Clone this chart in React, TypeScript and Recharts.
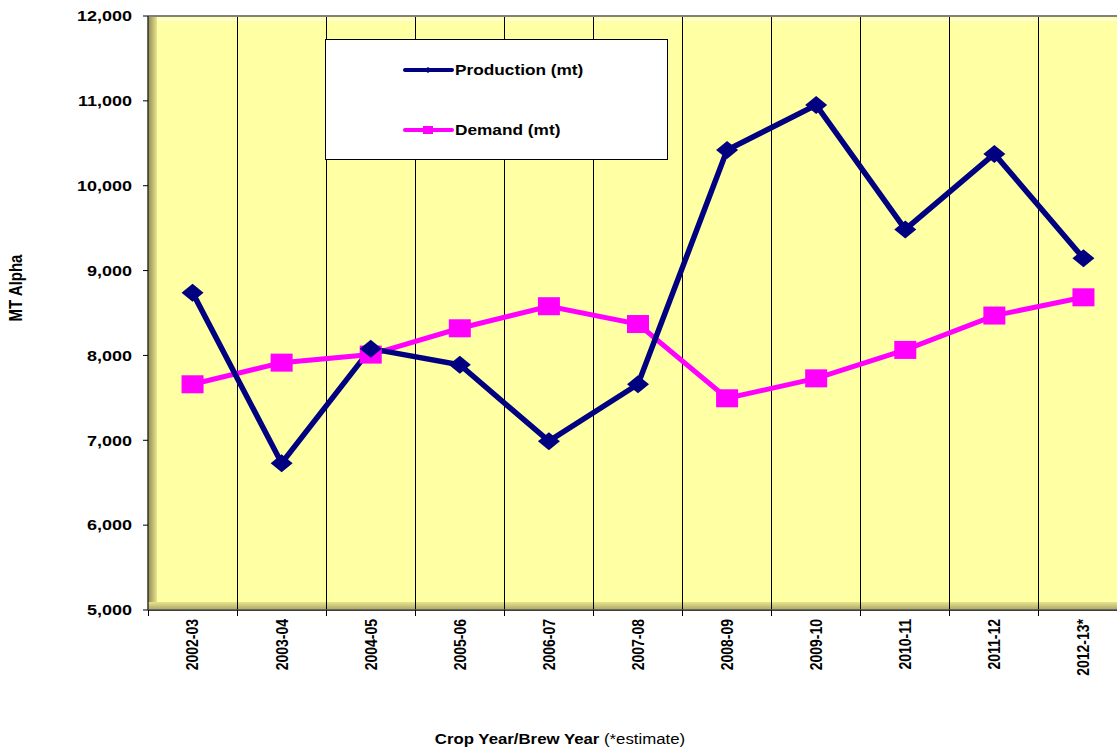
import { LineChart, Line, XAxis, YAxis, CartesianGrid, Legend, Customized } from 'recharts'

const SEASONS = ['2002-03', '2003-04', '2004-05', '2005-06', '2006-07', '2007-08', '2008-09', '2009-10', '2010-11', '2011-12', '2012-13*']
const PRODUCTION = [8740, 6730, 8080, 7890, 6990, 7660, 10420, 10950, 9485, 10375, 9145]
const DEMAND = [7660, 7915, 8010, 8320, 8580, 8370, 7495, 7730, 8065, 8470, 8685]
const Y_TICKS = [5000, 6000, 7000, 8000, 9000, 10000, 11000, 12000]

const data = SEASONS.map((season, i) => ({ season, production: PRODUCTION[i], demand: DEMAND[i] }))

const FONT = '"Liberation Sans", Arial, sans-serif'
const STRETCH = 1.2 // the source image is a bit wider than tall

// chart geometry
const W = 1140
const H = 751
const M = { top: 16, right: 12, bottom: 0, left: 0 }
const Y_W = 148
const X_H = 141
const PLOT = { left: Y_W, top: M.top, width: W - M.right - Y_W, height: H - M.top - X_H }
const STEP = PLOT.width / SEASONS.length

const NAVY = '#000080'
const MAGENTA = '#ff00ff'

const fmt = (v: number) => v.toLocaleString('en-US')

function YTick({ x, y, payload }: any) {
  return (
    <g transform={`translate(${x},${y}) scale(${STRETCH},1)`}>
      <text x={0} y={0} dy="0.35em" textAnchor="end" fontFamily={FONT} fontWeight="bold" fontSize={15} fill="#000">
        {fmt(payload.value)}
      </text>
    </g>
  )
}

function XTick({ x, y, payload }: any) {
  const axisY = PLOT.top + PLOT.height
  return (
    <g>
      <line x1={x - STEP / 2} x2={x - STEP / 2} y1={axisY} y2={axisY + 6} stroke="#000" shapeRendering="crispEdges" />
      <g transform={`translate(${x},${y}) scale(${STRETCH},1) rotate(-90)`}>
        <text x={0} y={0} dy="0.35em" textAnchor="end" fontFamily={FONT} fontWeight="bold" fontSize={14} fill="#000">
          {payload.value}
        </text>
      </g>
    </g>
  )
}

function Diamond({ cx, cy }: any) {
  if (cx == null || cy == null) return null
  return <polygon points={`${cx},${cy - 9} ${cx + 11},${cy} ${cx},${cy + 9} ${cx - 11},${cy}`} fill={NAVY} />
}

function Square({ cx, cy }: any) {
  if (cx == null || cy == null) return null
  return <rect x={cx - 11} y={cy - 9} width={22} height={18} fill={MAGENTA} />
}

// yellow plot wall with the Excel-style bevel on the left and bottom
function Wall() {
  const { left, top, width, height } = PLOT
  return (
    <g>
      <defs>
        <linearGradient id="leftBevel" x1="0" x2="1" y1="0" y2="0">
          <stop offset="0" stopColor="#8e8a52" />
          <stop offset="1" stopColor="#e8e48c" />
        </linearGradient>
        <linearGradient id="bottomBevel" x1="0" x2="0" y1="0" y2="1">
          <stop offset="0" stopColor="#e8e48c" />
          <stop offset="1" stopColor="#a8a468" />
        </linearGradient>
      </defs>
      <rect x={left} y={top} width={width} height={height} fill="#ffffa3" />
      <rect x={left} y={top} width={9} height={height} fill="url(#leftBevel)" />
      <rect x={left} y={top + height - 8} width={width} height={8} fill="url(#bottomBevel)" />
      <line x1={left + 9} x2={left + width} y1={top + 4} y2={top + 4} stroke="#ffffd8" strokeWidth={2} />
      {/* vertical grid lines sit on the category boundaries */}
      {SEASONS.slice(1).map((s, i) => (
        <line
          key={s}
          x1={left + (i + 1) * STEP}
          x2={left + (i + 1) * STEP}
          y1={top}
          y2={top + height}
          stroke="#000"
          shapeRendering="crispEdges"
        />
      ))}
    </g>
  )
}

function Frame() {
  const { left, top, width, height } = PLOT
  return (
    <g>
      <line x1={left} x2={left + width} y1={top} y2={top} stroke="#808080" strokeWidth={2} />
      <line x1={left} x2={left} y1={top} y2={top + height} stroke="#333" strokeWidth={1.5} />
      <line x1={left} x2={left + width} y1={top + height} y2={top + height} stroke="#555" strokeWidth={1.5} />
      <g transform={`translate(22,288) scale(${STRETCH},1) rotate(-90)`}>
        <text x={0} y={0} textAnchor="middle" fontFamily={FONT} fontWeight="bold" fontSize={15} fill="#000">
          MT Alpha
        </text>
      </g>
      <g transform={`translate(560,744) scale(1.12,1)`}>
        <text x={0} y={0} textAnchor="middle" fontFamily={FONT} fontSize={15} fill="#000">
          <tspan fontWeight="bold">Crop Year/Brew Year</tspan> (*estimate)
        </text>
      </g>
    </g>
  )
}

function LegendBox() {
  const rows = [
    { label: 'Production (mt)', color: NAVY, y: 31, marker: 'diamond' },
    { label: 'Demand (mt)', color: MAGENTA, y: 91, marker: 'square' },
  ]
  return (
    <svg width={343} height={121} style={{ display: 'block' }}>
      <rect x={0.5} y={0.5} width={342} height={120} fill="#fff" stroke="#000" />
      {rows.map((r) => (
        <g key={r.label}>
          <line x1={80} x2={127} y1={r.y} y2={r.y} stroke={r.color} strokeWidth={4} strokeLinecap="round" />
          {r.marker === 'diamond' ? (
            <polygon points={`103,${r.y - 3} 107,${r.y} 103,${r.y + 3} 99,${r.y}`} fill={r.color} />
          ) : (
            <rect x={98} y={r.y - 4} width={10} height={8} fill={r.color} />
          )}
          <g transform={`translate(130,${r.y}) scale(1.15,1)`}>
            <text x={0} y={0} dy="0.35em" fontFamily={FONT} fontWeight="bold" fontSize={15} fill="#000">
              {r.label}
            </text>
          </g>
        </g>
      ))}
    </svg>
  )
}

export default function App() {
  return (
    <div style={{ position: 'absolute', left: 0, top: 0, width: 1117, height: 751, overflow: 'hidden', background: '#fff' }}>
      <LineChart width={W} height={H} data={data} margin={M}>
        <Customized component={Wall} />
        <CartesianGrid stroke="#000" vertical={false} shapeRendering="crispEdges" />
        <XAxis
          dataKey="season"
          scale="band"
          height={X_H}
          interval={0}
          tickLine={false}
          axisLine={false}
          tickSize={0}
          tickMargin={9}
          tick={<XTick />}
        />
        <YAxis
          width={Y_W}
          domain={[5000, 12000]}
          ticks={Y_TICKS}
          allowDataOverflow
          axisLine={false}
          tickSize={5}
          tickMargin={11}
          tickLine={{ stroke: '#000' }}
          tick={<YTick />}
        />
        <Customized component={Frame} />
        <Legend
          layout="horizontal"
          align="center"
          verticalAlign="middle"
          wrapperStyle={{ left: 325, top: 39, width: 343, height: 121 }}
          content={() => <LegendBox />}
        />
        <Line
          type="linear"
          dataKey="demand"
          name="Demand (mt)"
          stroke={MAGENTA}
          strokeWidth={5}
          dot={<Square />}
          activeDot={false}
          isAnimationActive={false}
        />
        <Line
          type="linear"
          dataKey="production"
          name="Production (mt)"
          stroke={NAVY}
          strokeWidth={5.5}
          dot={<Diamond />}
          activeDot={false}
          isAnimationActive={false}
        />
      </LineChart>
    </div>
  )
}
